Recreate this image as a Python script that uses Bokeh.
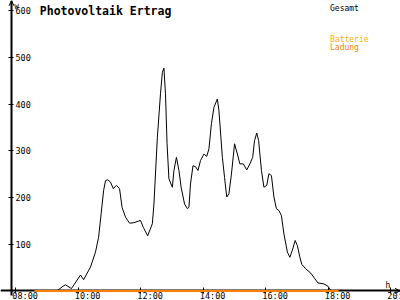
from bokeh.plotting import figure
from bokeh.models import LinearAxis, FixedTicker, Range1d, Label, Arrow, OpenHead, Grid, ColumnDataSource
from bokeh.core.properties import value
from bokeh.embed import file_html
from bokeh.resources import INLINE

# ---------------- data ----------------
gesamt_hours = [9.32, 9.51, 9.59, 9.78, 10.07, 10.17, 10.39, 10.55, 10.65, 10.73,
                10.81, 10.87, 10.94, 11.03, 11.12, 11.22, 11.32, 11.40, 11.51, 11.64,
                11.78, 11.99, 12.08, 12.22, 12.37, 12.42, 12.53, 12.63, 12.69, 12.74,
                12.79, 12.84, 12.90, 13.01, 13.06, 13.14, 13.22, 13.29, 13.40, 13.49,
                13.54, 13.59, 13.67, 13.75, 13.83, 13.91, 14.02, 14.11, 14.18, 14.26,
                14.34, 14.45, 14.50, 14.61, 14.68, 14.75, 14.82, 14.90, 15.00, 15.09,
                15.17, 15.28, 15.39, 15.49, 15.58, 15.64, 15.71, 15.77, 15.86, 15.94,
                16.03, 16.10, 16.18, 16.26, 16.34, 16.42, 16.50, 16.58, 16.69, 16.77,
                16.85, 16.94, 17.01, 17.09, 17.15, 17.28, 17.44, 17.57, 17.67, 17.86,
                17.99, 18.08]
gesamt_watts = [0, 10, 13, 5, 34, 24, 51, 83, 115, 165,
                215, 236, 238, 233, 219, 226, 219, 179, 158, 145,
                146, 151, 136, 118, 144, 186, 329, 422, 468, 477,
                422, 315, 240, 222, 258, 286, 258, 222, 186, 176,
                179, 229, 268, 266, 258, 279, 293, 288, 304, 358,
                393, 411, 386, 286, 243, 201, 208, 250, 315, 293,
                272, 272, 259, 272, 286, 322, 338, 322, 258, 222,
                226, 251, 247, 201, 176, 172, 161, 122, 83, 72,
                87, 108, 97, 72, 57, 47, 38, 26, 17, 15,
                10, 1]
ladung_hours = [8.6, 18.33]
ladung_watts = [0, 0]

x_ticks = [8, 10, 12, 14, 16, 18, 20]
x_tick_labels = ["08:00", "10:00", "12:00", "14:00", "16:00", "18:00", "20:00"]
y_ticks = [100, 200, 300, 400, 500, 600]

title_text = "Photovoltaik Ertrag"
legend_names = ["Gesamt", "Batterie", "Ladung"]
legend_colors = ["black", "#F5B000", "#FF8000"]

# ---------------- layout helpers ----------------
W, H = 400, 300
PX_PER_H = 31.25
X0_PX = 15.3      # pixel of 08:00
Y0_PX = 290.4     # pixel of 0 W
PX_PER_W = 0.467

x_start = 8 - X0_PX / PX_PER_H
x_end = x_start + W / PX_PER_H
y_end = Y0_PX / PX_PER_W
y_start = y_end - H / PX_PER_W


def hx(px):
    return x_start + px / PX_PER_H


def wy(py):
    return y_end - py / PX_PER_W


FONT = "DejaVu Sans Mono"

p = figure(width=W, height=H, x_range=Range1d(x_start, x_end),
           y_range=Range1d(y_start, y_end), output_backend="svg",
           toolbar_location=None, x_axis_location=None, y_axis_location=None,
           min_border=0, outline_line_color=None)
p.background_fill_color = "white"
p.border_fill_color = "white"

xaxis = LinearAxis(fixed_location=0, ticker=FixedTicker(ticks=x_ticks),
                   axis_line_width=2, axis_line_color="black",
                   major_tick_in=3, major_tick_out=3, major_tick_line_color="black",
                   minor_tick_in=0, minor_tick_out=0,
                   major_label_text_color=None)
p.add_layout(xaxis, "below")

yaxis = LinearAxis(fixed_location=hx(11), ticker=FixedTicker(ticks=y_ticks),
                   bounds=(wy(295), y_end),
                   axis_line_width=2, axis_line_color="black",
                   major_tick_in=3, major_tick_out=2, major_tick_line_color="black",
                   minor_tick_in=0, minor_tick_out=0,
                   major_label_standoff=2,
                   major_label_text_font=FONT, major_label_text_font_size="8.5px",
                   major_label_text_color="black")
p.add_layout(yaxis, "right")

for g in p.select(type=Grid):
    g.visible = False

# x tick labels, left-aligned just left of each tick (as in the reference)
xlab = ColumnDataSource(dict(x=x_ticks, y=[0] * len(x_ticks), text=x_tick_labels))
p.text(x="x", y="y", text="text", source=xlab, x_offset=-3.5, y_offset=9.8,
       text_align="left", text_baseline="bottom", text_font=value(FONT),
       text_font_size="8.5px", text_color="black")

p.line(gesamt_hours, gesamt_watts, line_color="black", line_width=1)
r = p.line(ladung_hours, ladung_watts, line_color=legend_colors[2], line_width=2)
r.level = "overlay"

# axis arrows
p.add_layout(Arrow(end=OpenHead(size=5, line_width=1, line_color="black"),
                   x_start=hx(394), y_start=0, x_end=hx(399.5), y_end=0,
                   line_color="black", line_width=1))
p.add_layout(Arrow(end=OpenHead(size=5, line_width=1, line_color="black"),
                   x_start=hx(11), y_start=wy(6), x_end=hx(11), y_end=wy(0.3),
                   line_color="black", line_width=1))

# title
p.add_layout(Label(x=hx(39.3), y=wy(10.2), text=title_text, text_font=FONT,
                   text_font_style="bold", text_font_size="11.5px",
                   text_baseline="alphabetic", text_align="left", text_color="black"))

# units
p.add_layout(Label(x=hx(14), y=wy(6), text="W", text_font=FONT, text_font_size="7px",
                   text_baseline="alphabetic", text_align="left", text_color="black"))
p.add_layout(Label(x=hx(385), y=wy(284.5), text="h", text_font=FONT, text_font_size="8px",
                   text_baseline="alphabetic", text_align="left", text_color="black"))

# legend texts
for name, col, base in zip(legend_names, legend_colors, [7.6, 38.5, 46.6]):
    p.add_layout(Label(x=hx(329.5), y=wy(base), text=name, text_font=FONT,
                       text_font_size="8px", text_baseline="alphabetic",
                       text_align="left", text_color=col))

open("out.html", "w").write(file_html(p, INLINE))
